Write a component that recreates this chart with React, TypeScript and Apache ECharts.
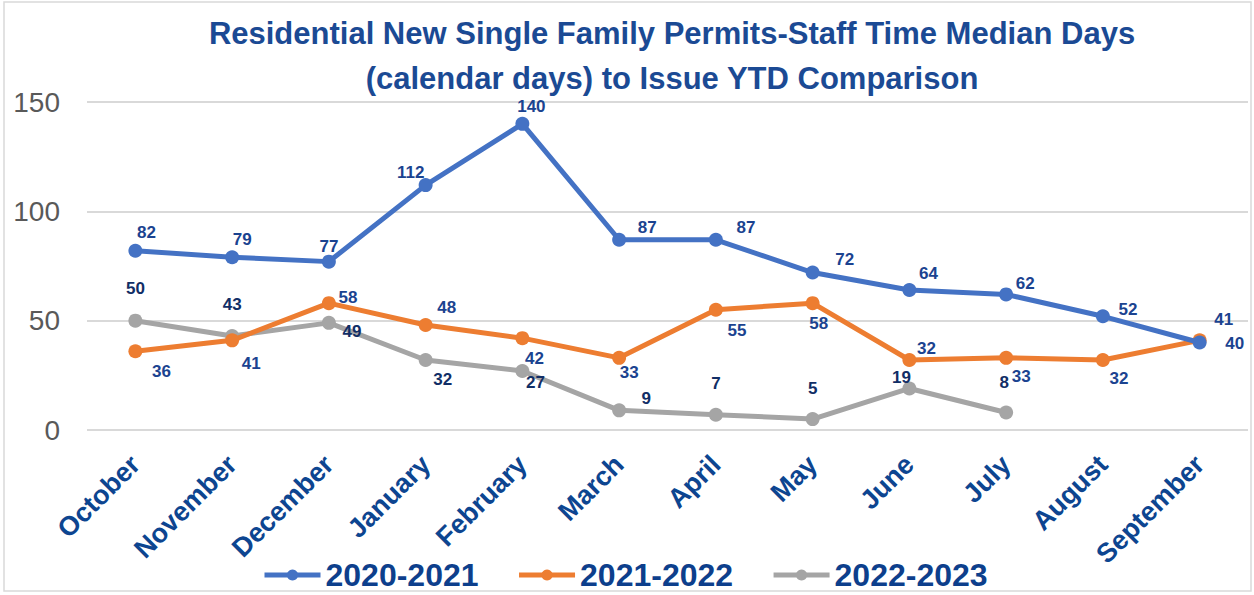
import React, { useEffect, useRef } from "react";
import * as echarts from "echarts";

const months = ["October", "November", "December", "January", "February", "March", "April", "May", "June", "July", "August", "September"];
const seriesNames = ["2020-2021", "2021-2022", "2022-2023"];
const fy2021 = [82, 79, 77, 112, 140, 87, 87, 72, 64, 62, 52, 40];
const fy2122 = [36, 41, 58, 48, 42, 33, 55, 58, 32, 33, 32, 41];
const fy2223: (number | null)[] = [50, 43, 49, 32, 27, 9, 7, 5, 19, 8, null, null];
const yTicks = [0, 50, 100, 150];

// label offsets (layout only)
const off2021 = [[11, -18], [10, -18], [0, -15], [-15, -13], [9, -17], [28, -12], [30, -12], [32, -13], [19, -17], [19, -11], [25, -7], [35, 1]];
const off2122 = [[26, 20], [19, 23], [19, -6], [21, -18], [12, 20], [10, 15], [21, 21], [6, 20], [17, -12], [15, 19], [16, 18], [24, -21]];
const off2223 = [[0, -32], [0, -31], [23, 9], [17, 19], [13, 12], [27, -12], [0, -31], [0, -31], [-8, -11], [-2, -30], [0, 0], [0, 0]];

const colors = ["#4472C4", "#ED7D31", "#A5A5A5"];
const labelColors = ["#1B4390", "#1B4390", "#112E66"];

function makeSeries(name: string, values: (number | null)[], offs: number[][], idx: number) {
  return {
    name,
    type: "line",
    data: values.map((v, i) => ({
      value: v,
      label: { offset: offs[i] },
    })),
    symbol: "circle",
    symbolSize: 14,
    lineStyle: { width: 5, color: colors[idx] },
    itemStyle: { color: colors[idx] },
    label: {
      show: true,
      position: "inside",
      fontFamily: "Liberation Sans",
      fontWeight: "bold",
      fontSize: 17,
      color: labelColors[idx],
    },
    z: 3 + (idx === 0 ? 2 : idx === 1 ? 1 : 0),
  };
}

export default function App() {
  const ref = useRef<HTMLDivElement>(null);
  useEffect(() => {
    if (!ref.current) return;
    const chart = echarts.init(ref.current, null, { renderer: "svg" });
    chart.setOption({
      animation: false,
      backgroundColor: "#ffffff",
      textStyle: { fontFamily: "Liberation Sans" },
      title: {
        text: "Residential New Single Family Permits-Staff Time Median Days\n(calendar days) to Issue YTD Comparison",
        left: 667,
        top: 6,
        textAlign: "center",
        textStyle: {
          fontFamily: "Liberation Sans",
          fontSize: 31,
          fontWeight: "bold",
          color: "#1B4A94",
          lineHeight: 45,
        },
      },
      graphic: [
        {
          type: "rect",
          shape: { x: 4, y: 2, width: 1247, height: 589 },
          style: { fill: "none", stroke: "#D9D9D9", lineWidth: 1.5 },
          silent: true,
        },
      ],
      grid: { left: 87, right: 6, top: 102, bottom: 165 },
      legend: {
        data: seriesNames,
        bottom: -1,
        left: 257,
        itemWidth: 56,
        itemHeight: 14,
        itemGap: 38,
        lineStyle: { width: 5 },
        textStyle: { fontSize: 32, fontWeight: "bold", color: "#0D3F8C", fontFamily: "Liberation Sans" },
      },
      xAxis: {
        type: "category",
        data: months,
        boundaryGap: true,
        axisLine: { show: false },
        axisTick: { show: false },
        axisLabel: {
          rotate: 45,
          margin: 30,
          fontSize: 27,
          fontWeight: "bold",
          color: "#0D4590",
          interval: 0,
        },
      },
      yAxis: {
        type: "value",
        min: yTicks[0],
        max: yTicks[yTicks.length - 1],
        interval: 50,
        axisLine: { show: false },
        axisTick: { show: false },
        axisLabel: { fontSize: 28, color: "#595959", margin: 27 },
        splitLine: { lineStyle: { color: "#D9D9D9", width: 2 } },
      },
      series: [
        makeSeries(seriesNames[0], fy2021, off2021, 0),
        makeSeries(seriesNames[1], fy2122, off2122, 1),
        makeSeries(seriesNames[2], fy2223, off2223, 2),
      ],
    });
    return () => chart.dispose();
  }, []);
  return (
    <div
      ref={ref}
      style={{ position: "absolute", left: 0, top: 0, width: 1254, height: 595 }}
    />
  );
}
